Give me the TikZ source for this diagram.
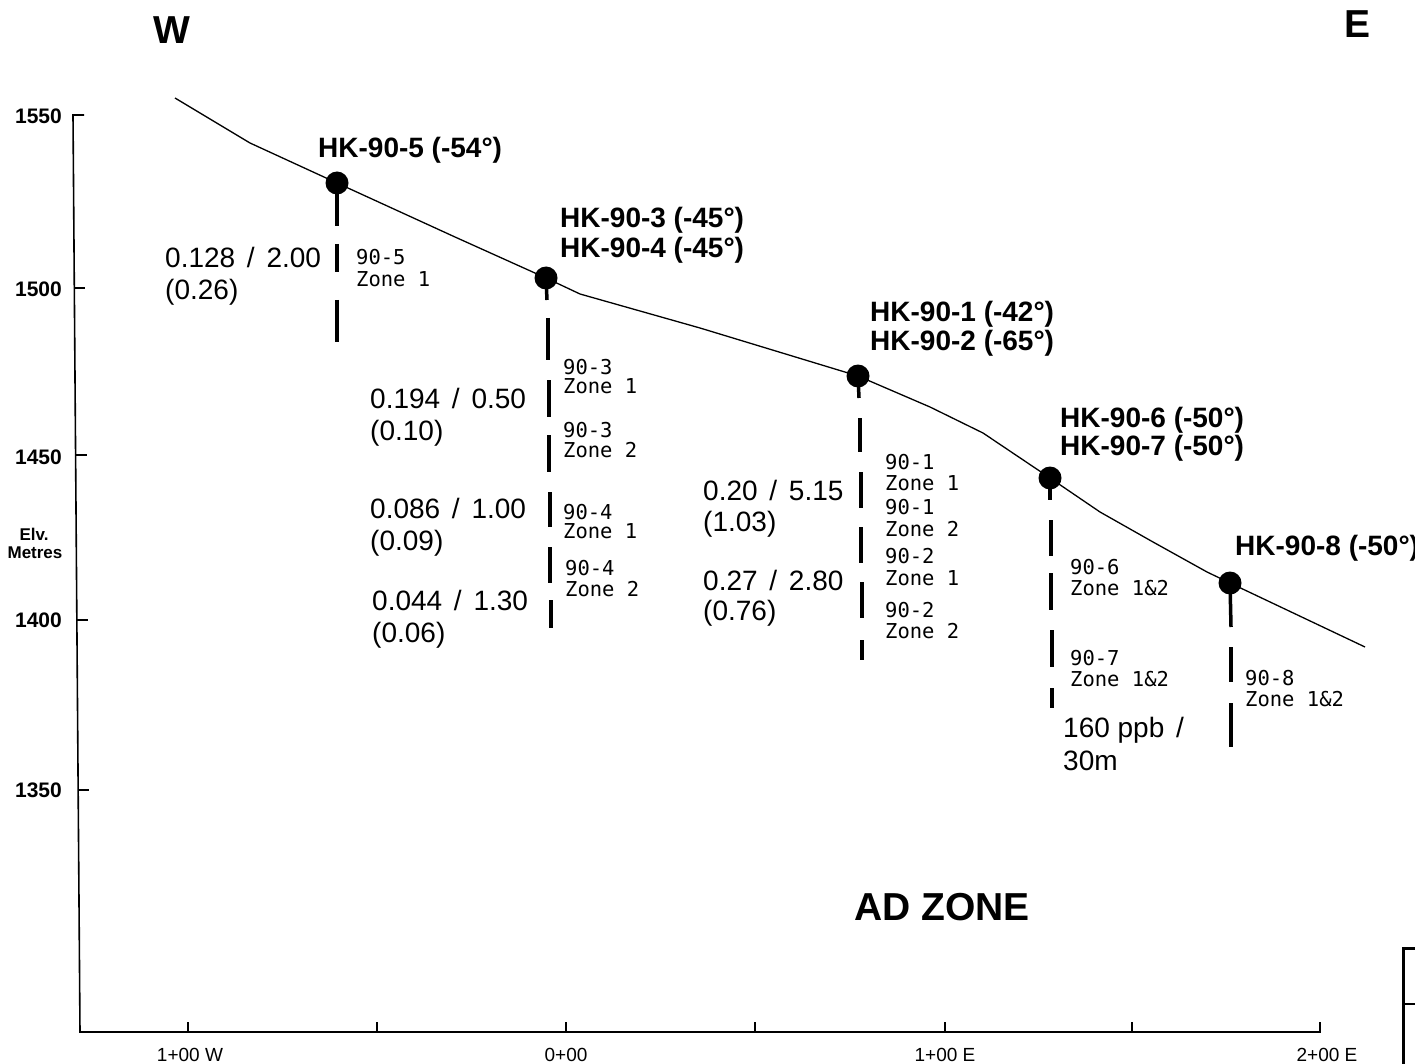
\documentclass[tikz,border=0pt]{standalone}
\usepackage{fontspec}
\setmainfont{Liberation Sans}
\newfontfamily\monofont{DejaVu Sans Mono}
\newcommand{\slashsep}{\hspace{0.42em}/\hspace{0.42em}}
\begin{document}
\begin{tikzpicture}[x=1pt,y=-1pt,
  hk/.style={anchor=base west,inner sep=0pt,font=\bfseries\fontsize{28}{32}\selectfont},
  val/.style={anchor=base west,inner sep=0pt,font=\fontsize{28}{32}\selectfont},
  zl/.style={anchor=base west,inner sep=0pt,font=\monofont\fontsize{20.5}{22}\selectfont},
  axl/.style={anchor=base east,inner sep=0pt,font=\bfseries\fontsize{21}{24}\selectfont},
  xl/.style={anchor=base,inner sep=0pt,font=\fontsize{19}{22}\selectfont},
  big/.style={anchor=base,inner sep=0pt,font=\bfseries\fontsize{39}{42}\selectfont},
  elvl/.style={anchor=base,inner sep=0pt,font=\bfseries\fontsize{17}{18}\selectfont},
  dot/.style={circle,fill=black,inner sep=0pt,minimum size=23pt},
  drill/.style={line width=3.5pt},
  ground/.style={line width=1.3pt},
  axis/.style={line width=1.6pt}]
\useasboundingbox (0,0) rectangle (1415,1064);

% axes
\coordinate (ytop) at (73,115);
\coordinate (orig) at (80,1032);
\coordinate (xend) at (1320,1032);
\draw[axis] (84,115) -- (ytop) -- (orig) -- (xend) -- (1320,1022);
\foreach \yy in {288,455,620,790}{
  \draw[axis] ({73+7*(\yy-115)/917},\yy) -- ({84+7*(\yy-115)/917},\yy);
}
\foreach \xx in {188,377,566,755,945,1132}{
  \draw[axis] (\xx,1032) -- (\xx,1022);
}
\node[axl] (y1550) at (62,124) {1550};
\node[axl] (y1500) at (62,297) {1500};
\node[axl] (y1450) at (62,464) {1450};
\node[axl] (y1400) at (62,627) {1400};
\node[axl] (y1350) at (62,797) {1350};
\node[elvl] (elv) at (34,540) {Elv.};
\node[elvl] (met) at (35,558) {Metres};

\node[xl] (x1) at (190,1061) {1+00 W};
\node[xl] (x2) at (566,1061) {0+00};
\node[xl] (x3) at (945,1061) {1+00 E};
\node[xl] (x4) at (1327,1061) {2+00 E};

\node[big] (W) at (172,44) {W};
\node[big] (E) at (1357,38) {E};
\node[big] (ad) at (942,920) {AD ZONE};

% collars
\node[dot] (d5) at (337,183) {};
\node[dot] (d3) at (546,278) {};
\node[dot] (d1) at (858,376) {};
\node[dot] (d6) at (1050,478) {};
\node[dot] (d8) at (1230,583) {};

% ground surface
\draw[ground] (175,98) -- (250,143) -- (d5.center) -- (455,237) -- (d3.center)
  -- (580,294) -- (700,328) -- (d1.center) -- (930,407) -- (983,433)
  -- (d6.center) -- (1100,512) -- (1153,542) -- (1207,572) -- (d8.center) -- (1365,647);

% drill traces
\draw[drill] (d5.center) -- (337,226);
\draw[drill] (337,244) -- (337,272);
\draw[drill] (337,300) -- (337,342);

\draw[drill] (d3.center) -- (547,300);
\draw[drill] (548,318) -- (548,360);
\draw[drill] (549,380) -- (549,417);
\draw[drill] (549,435) -- (549,472);
\draw[drill] (550,492) -- (550,527);
\draw[drill] (550,547) -- (550,583);
\draw[drill] (551,600) -- (551,628);

\draw[drill] (d1.center) -- (859,398);
\draw[drill] (860,418) -- (860,452);
\draw[drill] (861,472) -- (861,508);
\draw[drill] (861,527) -- (861,563);
\draw[drill] (862,582) -- (862,618);
\draw[drill] (862,640) -- (862,660);

\draw[drill] (d6.center) -- (1050,500);
\draw[drill] (1051,520) -- (1051,556);
\draw[drill] (1051,573) -- (1051,610);
\draw[drill] (1052,630) -- (1052,667);
\draw[drill] (1052,688) -- (1052,708);

\draw[drill] (d8.center) -- (1231,627);
\draw[drill] (1231,647) -- (1231,682);
\draw[drill] (1231,703) -- (1231,747);

% hole labels
\node[hk] (h5) at (318,158) {HK-90-5 (-54°)};
\node[hk] (h3) at (560,228) {HK-90-3 (-45°)};
\node[hk] (h4) at (560,258) {HK-90-4 (-45°)};
\node[hk] (h1) at (870,322) {HK-90-1 (-42°)};
\node[hk] (h2) at (870,350) {HK-90-2 (-65°)};
\node[hk] (h6) at (1060,427) {HK-90-6 (-50°)};
\node[hk] (h7) at (1060,455) {HK-90-7 (-50°)};
\node[hk] (h8) at (1235,555) {HK-90-8 (-50°)};

% values
\node[val] (v5a) at (165,268) {0.128\slashsep 2.00};
\node[val] (v5b) at (165,300) {(0.26)};
\node[val] (v3a) at (370,408) {0.194\slashsep 0.50};
\node[val] (v3b) at (370,440) {(0.10)};
\node[val] (v4a) at (370,518) {0.086\slashsep 1.00};
\node[val] (v4b) at (370,550) {(0.09)};
\node[val] (v4c) at (372,610) {0.044\slashsep 1.30};
\node[val] (v4d) at (372,642) {(0.06)};
\node[val] (v1a) at (703,500) {0.20\slashsep 5.15};
\node[val] (v1b) at (703,531) {(1.03)};
\node[val] (v2a) at (703,590) {0.27\slashsep 2.80};
\node[val] (v2b) at (703,620) {(0.76)};
\node[val] (v6a) at (1063,737) {160 ppb\slashsep};
\node[val] (v6b) at (1063,770) {30m};

% zone labels
\node[zl] (z5a) at (356,265) {90-5};
\node[zl] (z5b) at (356,287) {Zone 1};
\node[zl] (z31a) at (563,374) {90-3};
\node[zl] (z31b) at (563,393) {Zone 1};
\node[zl] (z32a) at (563,437) {90-3};
\node[zl] (z32b) at (563,457) {Zone 2};
\node[zl] (z41a) at (563,519) {90-4};
\node[zl] (z41b) at (563,538) {Zone 1};
\node[zl] (z42a) at (565,575) {90-4};
\node[zl] (z42b) at (565,596) {Zone 2};
\node[zl] (z11a) at (885,469) {90-1};
\node[zl] (z11b) at (885,490) {Zone 1};
\node[zl] (z12a) at (885,514) {90-1};
\node[zl] (z12b) at (885,536) {Zone 2};
\node[zl] (z21a) at (885,563) {90-2};
\node[zl] (z21b) at (885,585) {Zone 1};
\node[zl] (z22a) at (885,617) {90-2};
\node[zl] (z22b) at (885,638) {Zone 2};
\node[zl] (z6a) at (1070,574) {90-6};
\node[zl] (z6b) at (1070,595) {Zone 1\&2};
\node[zl] (z7a) at (1070,665) {90-7};
\node[zl] (z7b) at (1070,686) {Zone 1\&2};
\node[zl] (z8a) at (1245,685) {90-8};
\node[zl] (z8b) at (1245,706) {Zone 1\&2};

% legend box corner (cut off)
\draw[line width=3pt] (1415,948) -- (1403,948) -- (1403,1064);
\draw[line width=2pt] (1403,1004) -- (1415,1004);
\end{tikzpicture}
\end{document}
